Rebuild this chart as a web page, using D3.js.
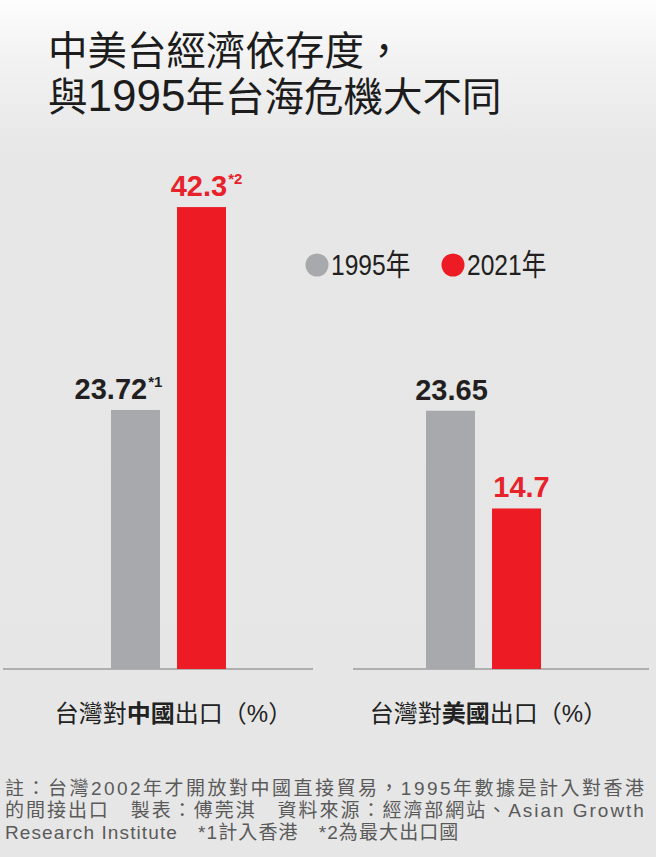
<!DOCTYPE html>
<html>
<head>
<meta charset="utf-8">
<script src="https://cdn.jsdelivr.net/npm/d3@7"></script>
<style>
  html, body { margin: 0; padding: 0; }
  body {
    width: 656px; height: 857px; overflow: hidden;
    background: linear-gradient(to bottom, #fdfdfd 0px, #f2f2f2 60px, #e7e7e7 150px, #e6e6e6 857px);
  }
  svg { display: block; }
  .title { font-family: "Liberation Sans", "Noto Sans CJK TC", sans-serif; font-size: 39.5px; fill: #1c1c1c; }
  .title .num { font-size: 44px; }
  .cat { font-family: "Liberation Sans", "Noto Sans CJK TC", sans-serif; font-size: 24px; fill: #222; }
  .cat .strong { font-weight: bold; }
  .legend-text { font-family: "Liberation Sans", "Noto Sans CJK TC", sans-serif; font-size: 30px; fill: #231f20; }
  .value { font-family: "Liberation Sans", sans-serif; font-weight: bold; font-size: 29px; }
  .value .sup { font-size: 15px; font-weight: bold; }
  .note { font-family: "Liberation Sans", "Noto Sans CJK TC", sans-serif; font-size: 19px; fill: #5a5a5a; letter-spacing: 1.1px; }
  .baseline { stroke: #9c9c9c; stroke-width: 1.5; }
</style>
</head>
<body>
<div id="chart"></div>
<script>
// --- data ---
const groups = ["中國", "美國"];
const groupLabels = [["台灣對", "中國", "出口（%）"], ["台灣對", "美國", "出口（%）"]];
const series = ["1995年", "2021年"];
const values1995 = [23.72, 23.65];
const values2021 = [42.3, 14.7];
const valueNotes1995 = ["*1", ""];
const valueNotes2021 = ["*2", ""];

const titleLines = [["中美台經濟依存度，"], ["與", "1995", "年台海危機大不同"]];
const noteLines = [
  "註：台灣2002年才開放對中國直接貿易，1995年數據是計入對香港",
  "的間接出口　製表：傅莞淇　資料來源：經濟部網站、Asian Growth",
  "Research Institute　*1計入香港　*2為最大出口國"
];

// --- layout ---
const W = 656, H = 857;
const colors = { "1995年": "#a7a9ac", "2021年": "#ed1c24" };
const labelColors = { "1995年": "#231f20", "2021年": "#e8212a" };
const baseY = 669;

const svg = d3.select("#chart").append("svg")
  .attr("width", W).attr("height", H);

// title
const title = svg.append("g").selectAll("text")
  .data(titleLines).enter().append("text")
  .attr("class", "title")
  .attr("x", 48)
  .attr("y", (d, i) => 65 + i * 46);
title.each(function(parts) {
  const t = d3.select(this);
  parts.forEach(p => {
    t.append("tspan").attr("class", /^\d+$/.test(p) ? "num" : null).text(p);
  });
});

// scales
const x0 = d3.scaleBand().domain(groups).range([11, 641]);
const x1 = d3.scaleBand().domain(series).range([0, 115]).paddingInner(0.258);
const inner0 = (x0.bandwidth() - 115) / 2;
const y = d3.scaleLinear().domain([0, 50]).range([baseY, 123]);

const rows = [];
groups.forEach((g, gi) => {
  rows.push({ group: g, s: "1995年", v: values1995[gi], note: valueNotes1995[gi] });
  rows.push({ group: g, s: "2021年", v: values2021[gi], note: valueNotes2021[gi] });
});

// baselines under each group
const lineExtents = [[3, 313], [353, 649]];
svg.append("g").selectAll("line")
  .data(groups).enter().append("line")
  .attr("class", "baseline")
  .attr("x1", (d, i) => lineExtents[i][0])
  .attr("x2", (d, i) => lineExtents[i][1])
  .attr("y1", baseY).attr("y2", baseY);

// bars
svg.append("g").selectAll("rect")
  .data(rows).enter().append("rect")
  .attr("x", d => x0(d.group) + inner0 + x1(d.s))
  .attr("y", d => y(d.v))
  .attr("width", x1.bandwidth())
  .attr("height", d => y(0) - y(d.v))
  .attr("fill", d => colors[d.s]);

// value labels
const labelNudge = { "中國|1995年": -17, "中國|2021年": 5, "美國|1995年": 1, "美國|2021年": 5 };
const vl = svg.append("g").selectAll("text")
  .data(rows).enter().append("text")
  .attr("class", "value")
  .attr("text-anchor", "middle")
  .attr("x", d => x0(d.group) + inner0 + x1(d.s) + x1.bandwidth() / 2 + labelNudge[d.group + "|" + d.s])
  .attr("y", d => y(d.v) - 11)
  .attr("fill", d => labelColors[d.s]);
vl.append("tspan").text(d => d.v);
vl.filter(d => d.note).append("tspan")
  .attr("class", "sup")
  .attr("dx", 1)
  .attr("dy", -12)
  .text(d => d.note);

// category labels
const cat = svg.append("g").selectAll("text")
  .data(groups).enter().append("text")
  .attr("class", "cat")
  .attr("text-anchor", "middle")
  .attr("x", (d, i) => x0(d) + x0.bandwidth() / 2 + 5)
  .attr("y", 722);
cat.each(function(d, i) {
  const t = d3.select(this);
  groupLabels[i].forEach((part, pi) => {
    t.append("tspan").attr("class", pi === 1 ? "strong" : null).text(part);
  });
});

// legend (narrow lettering, as in the original)
const legend = svg.append("g").attr("transform", "translate(317,265)");
const lg = legend.selectAll("g")
  .data(series).enter().append("g")
  .attr("transform", (d, i) => `translate(${i * 136},0)`);
lg.append("circle").attr("r", 11.5).attr("fill", d => colors[d]);
lg.append("text")
  .attr("class", "legend-text")
  .attr("transform", "translate(14,10) scale(0.82,1)")
  .text(d => d);

// footnote: first two lines justified to full width
svg.append("g").selectAll("text")
  .data(noteLines).enter().append("text")
  .attr("class", "note")
  .attr("x", 5)
  .attr("y", (d, i) => 795 + i * 22)
  .attr("textLength", (d, i) => i < noteLines.length - 1 ? 640 : null)
  .attr("lengthAdjust", "spacing")
  .text(d => d);
</script>
</body>
</html>
